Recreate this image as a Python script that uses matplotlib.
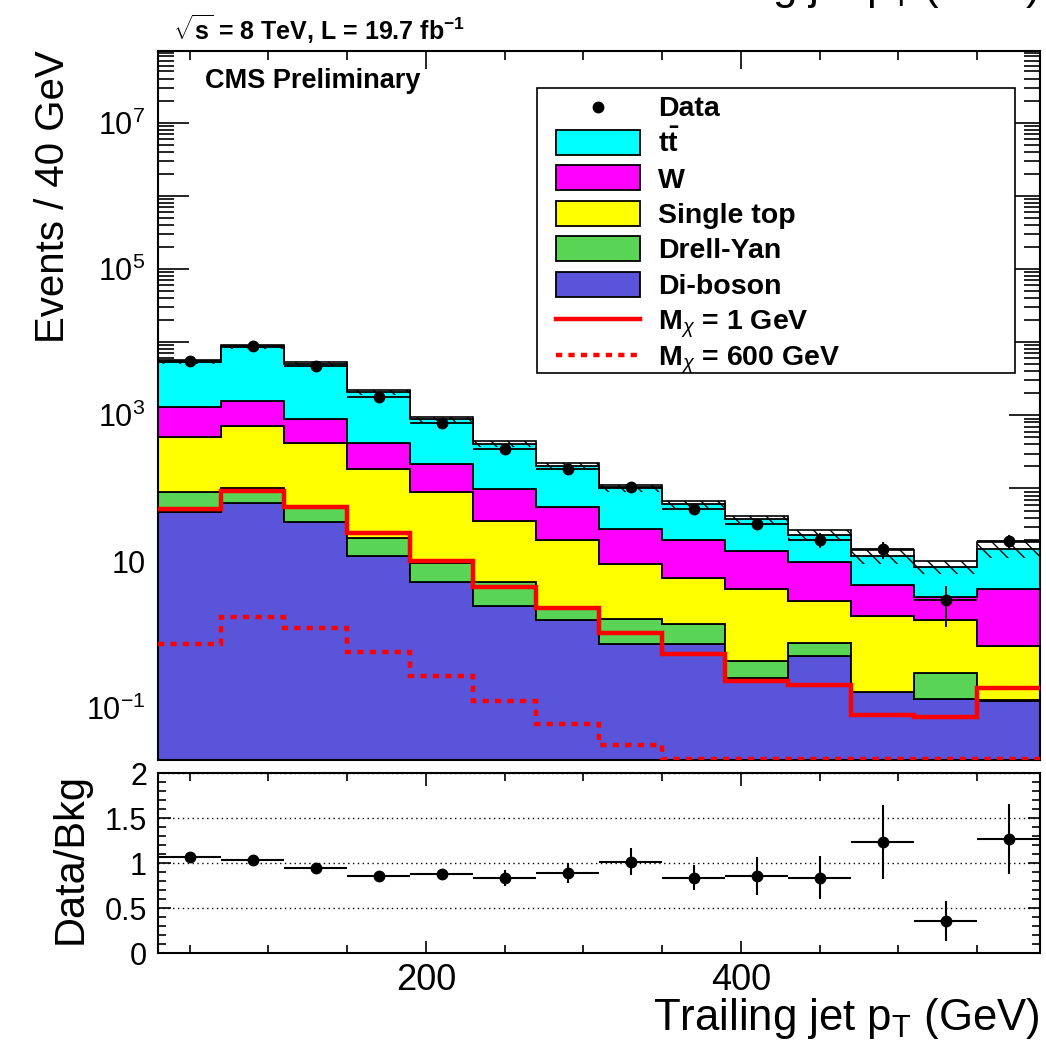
import numpy as np
import matplotlib

matplotlib.use("Agg")
import matplotlib.pyplot as plt
from matplotlib.lines import Line2D
from matplotlib.patches import Rectangle
from matplotlib.ticker import FixedLocator, FuncFormatter, LogLocator, MultipleLocator, NullFormatter

plt.rcParams["font.family"] = ["Liberation Sans", "DejaVu Sans"]
plt.rcParams["mathtext.fontset"] = "custom"
plt.rcParams["mathtext.rm"] = "Liberation Sans"
plt.rcParams["mathtext.it"] = "Liberation Sans:italic"
plt.rcParams["mathtext.bf"] = "Liberation Sans:bold"
plt.rcParams["hatch.linewidth"] = 1.0

# trailing jet pT bins (GeV)
bin_edges = [30, 70, 110, 150, 190, 230, 270, 310, 350, 390, 430, 470, 510, 550, 590]

# background processes, events per bin (stacked bottom -> top)
diboson = [48, 64, 34.5, 12, 5.3, 2.45, 1.62, 0.74, 0.76, 0.26, 0.51, 0.165, 0.131, 0.125]
drell_yan = [41, 38, 23.5, 9, 4.2, 2.75, 0.61, 0.90, 0.65, 0.18, 0.27, 0.003, 0.169, 0.003]
single_top = [422, 618, 367, 164, 79.5, 30.8, 17.8, 7.66, 4.49, 3.76, 2.12, 1.65, 1.29, 0.57]
w_jets = [807, 870, 465, 240, 127, 62, 36, 18.3, 13.6, 9.8, 6.9, 2.98, 1.71, 3.5]
ttbar = [3980, 7010, 4110, 1625, 664, 307, 147, 74.4, 41.5, 24, 13.2, 7.2, 5.1, 10.8]
bkg_rel_unc = [0.06, 0.06, 0.07, 0.08, 0.09, 0.10, 0.10, 0.11, 0.11, 0.12, 0.16, 0.22, 0.20, 0.25]

data = [5600, 8900, 4770, 1800, 795, 347, 182, 104, 52, 33, 20, 14.8, 3.0, 19]
data_err = [75, 94, 69, 42, 28, 19, 13.5, 10.2, 7.2, 5.7, 4.5, 3.8, 1.7, 4.4]

signal_m1 = [52, 91, 56, 24.5, 10.3, 4.5, 2.34, 1.07, 0.55, 0.235, 0.205, 0.081, 0.076, 0.19]
signal_m600 = [0.76, 1.77, 1.25, 0.58, 0.275, 0.124, 0.060, 0.031, 0.02, 0.02, 0.02, 0.02, 0.02, 0.02]

ratio = [1.074, 1.037, 0.952, 0.856, 0.881, 0.833, 0.896, 1.015, 0.841, 0.863, 0.841, 1.237, 0.359, 1.270]
ratio_err = [0.02, 0.02, 0.025, 0.03, 0.04, 0.09, 0.11, 0.15, 0.14, 0.21, 0.235, 0.41, 0.22, 0.39]

process_labels = ["Di-boson", "Drell-Yan", "Single top", "W", r"$\mathbf{t\bar{t}}$"]
process_colors = ["#5954D9", "#59D454", "#FFFF00", "#FF00FF", "#00FFFF"]

W, H = 1046, 1047


def px_rect(left, top, right, bottom):
    return [left / W, 1 - bottom / H, (right - left) / W, (bottom - top) / H]


def fx(px):
    return px / W


def fy(py):
    return 1 - py / H


edges = np.array(bin_edges, dtype=float)
centers = 0.5 * (edges[1:] + edges[:-1])
half_width = 0.5 * np.diff(edges)

stack = np.array([diboson, drell_yan, single_top, w_jets, ttbar], dtype=float)
tops = np.cumsum(stack, axis=0)
total = tops[-1]
unc = np.array(bkg_rel_unc)

fig = plt.figure(figsize=(W / 100, H / 100), dpi=100)
ax = fig.add_axes(px_rect(158, 50.7, 1040, 760))
rax = fig.add_axes(px_rect(158, 773.3, 1040, 953.3))

# --- main panel ---
bottom = np.full(len(centers), 1e-3)
for top, color in zip(tops, process_colors):
    ax.stairs(top, edges, baseline=bottom, fill=True, facecolor=color,
              edgecolor="black", linewidth=1.3, zorder=2)
    bottom = top

ax.stairs(total * (1 + unc), edges, baseline=total * (1 - unc), fill=True,
          facecolor="none", edgecolor="black", hatch="\\\\", linewidth=0, zorder=3)
ax.stairs(total * (1 + unc), edges, baseline=None, color="black", linewidth=1.2, zorder=3)

ax.stairs(signal_m1, edges, baseline=None, color="#FF0000", linewidth=3.2, zorder=4)
ax.stairs(signal_m600, edges, baseline=None, color="#FF0000", linewidth=3.2,
          linestyle=(0, (1.4, 1.4)), zorder=4)

ax.errorbar(centers, data, yerr=data_err, xerr=half_width, fmt="o", color="black",
            markersize=7.5, elinewidth=1.3, capsize=0, zorder=5)

ax.set_yscale("log")
ax.set_xlim(edges[0], edges[-1])
ax.set_ylim(0.0195, 9.6e7)


def log_label(value, pos):
    exp = int(round(np.log10(value)))
    if exp % 2 == 0:
        return ""
    if exp == 1:
        return "10"
    return r"$10^{%d}$" % exp


ax.yaxis.set_major_locator(LogLocator(base=10, numticks=30))
ax.yaxis.set_major_formatter(FuncFormatter(log_label))
ax.yaxis.set_minor_locator(LogLocator(base=10, subs=np.arange(2, 10), numticks=30))
ax.yaxis.set_minor_formatter(NullFormatter())
ax.xaxis.set_major_locator(FixedLocator([200, 400]))
ax.xaxis.set_minor_locator(MultipleLocator(50))
ax.xaxis.set_major_formatter(NullFormatter())
ax.tick_params(which="both", direction="in", top=True, right=True, width=1.2)
ax.tick_params(axis="y", which="major", length=22, labelsize=22, pad=9)
ax.tick_params(axis="y", which="minor", length=11.5)
ax.tick_params(axis="x", which="major", length=13)
ax.tick_params(axis="x", which="minor", length=6.5)
for spine in ax.spines.values():
    spine.set_linewidth(1.5)

# --- ratio panel ---
rax.errorbar(centers, ratio, yerr=ratio_err, xerr=half_width, fmt="o", color="black",
             markersize=7.5, elinewidth=1.5, capsize=0, zorder=3)
rax.set_xlim(edges[0], edges[-1])
rax.set_ylim(0, 2)
rax.yaxis.set_major_locator(MultipleLocator(0.5))
rax.yaxis.set_minor_locator(MultipleLocator(0.1))
rax.yaxis.set_major_formatter(FuncFormatter(lambda v, p: f"{v:g}"))
rax.xaxis.set_major_locator(FixedLocator([200, 400]))
rax.xaxis.set_minor_locator(MultipleLocator(50))
rax.grid(axis="y", which="major", color="black", linestyle=(0, (1, 2.5)), linewidth=1)
rax.tick_params(which="both", direction="in", top=True, right=True, width=1.2)
rax.tick_params(axis="y", which="major", length=9, labelsize=22, pad=8)
rax.tick_params(axis="y", which="minor", length=6)
rax.tick_params(axis="x", which="major", length=9, labelsize=26, pad=7)
rax.tick_params(axis="x", which="minor", length=6)
for spine in rax.spines.values():
    spine.set_linewidth(1.5)

# --- titles and labels ---
fig.text(fx(53), fy(50.7), "Events / 40 GeV", rotation=90, ha="center", va="top", fontsize=29)
fig.text(fx(71), fy(773.3), "Data/Bkg", rotation=90, ha="center", va="top", fontsize=30)
xlabel = r"Trailing jet p$_{\mathrm{T}}$ (GeV)"
fig.text(fx(1040), fy(1030), xlabel, ha="right", va="baseline", fontsize=31.5)
fig.text(fx(1040), fy(-1), xlabel, ha="right", va="baseline", fontsize=31.5)
fig.text(fx(173), fy(40), r"$\mathbf{\sqrt{s}}$ = 8 TeV, L = 19.7 fb$^{\mathbf{-1}}$",
         ha="left", va="baseline", fontsize=18, fontweight="bold")
fig.text(fx(205), fy(88), "CMS Preliminary", ha="left", va="baseline",
         fontsize=19.5, fontweight="bold")

# --- legend (ROOT-style fixed box) ---
fig.add_artist(Rectangle((fx(537), fy(373)), (1015 - 537) / W, (373 - 88) / H,
                         transform=fig.transFigure, facecolor="white",
                         edgecolor="black", linewidth=1.2, zorder=10))
row_y = [106.5, 142, 177.5, 213, 248.5, 284, 319.5, 355]
entries = [("Data", "data", None)]
for label, color in zip(process_labels[::-1], process_colors[::-1]):
    entries.append((label, "box", color))
entries.append((r"M$_{\chi}$ = 1 GeV", "line", "-"))
entries.append((r"M$_{\chi}$ = 600 GeV", "line", (0, (1.4, 1.4))))

for (label, kind, style), y in zip(entries, row_y):
    if kind == "data":
        fig.add_artist(Line2D([fx(598)], [fy(y)], transform=fig.transFigure, marker="o",
                              color="black", markersize=7.5, linestyle="none", zorder=11))
    elif kind == "box":
        fig.add_artist(Rectangle((fx(556), fy(y + 12.5)), 84 / W, 25 / H,
                                 transform=fig.transFigure, facecolor=style,
                                 edgecolor="black", linewidth=1.3, zorder=11))
    else:
        fig.add_artist(Line2D([fx(556), fx(640)], [fy(y), fy(y)], transform=fig.transFigure,
                              color="#FF0000", linewidth=3.2, linestyle=style, zorder=11))
    fig.text(fx(658), fy(y + 10), label, ha="left", va="baseline", fontsize=20.5,
             fontweight="bold", zorder=12)

fig.savefig("out.png", dpi=100)
